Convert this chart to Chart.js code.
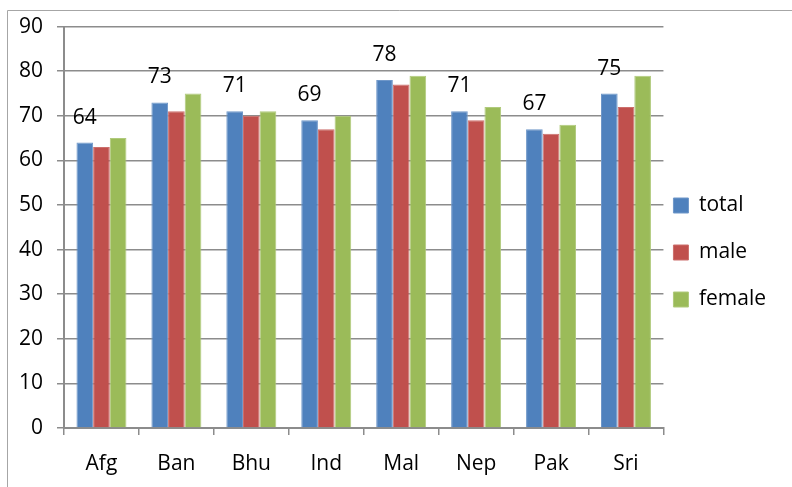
<!DOCTYPE html>
<html>
<head>
<meta charset="utf-8">
<script src="https://cdn.jsdelivr.net/npm/chart.js@4"></script>
<style>
  html, body { margin: 0; padding: 0; background: #fff; }
  #wrap { width: 792px; height: 487px; }
</style>
</head>
<body>
<div id="wrap"><canvas id="graficoBarras" width="792" height="487"></canvas></div>
<script>
// dados
const paises = ['Afg', 'Ban', 'Bhu', 'Ind', 'Mal', 'Nep', 'Pak', 'Sri'];
const total  = [64, 73, 71, 69, 78, 71, 67, 75];
const male   = [63, 71, 70, 67, 77, 69, 66, 72];
const female = [65, 75, 71, 70, 79, 72, 68, 79];
const ticksY = [0, 10, 20, 30, 40, 50, 60, 70, 80, 90];

const fonte = '"Open Sans", "Liberation Sans", sans-serif';
const cinza = '#8c8c8c';

// moldura cinza em volta do grafico
const moldura = {
    id: 'moldura',
    beforeDraw(chart) {
        const ctx = chart.ctx;
        ctx.save();
        ctx.strokeStyle = '#a6a6a6';
        ctx.lineWidth = 1;
        ctx.beginPath();
        ctx.moveTo(7.5, chart.height);
        ctx.lineTo(7.5, 10.5);
        ctx.lineTo(chart.width, 10.5);
        ctx.stroke();
        ctx.restore();
    }
};

// legenda um pouco mais perto do grafico (o padding grande e so pro espacamento vertical)
const ajusteLegenda = {
    id: 'ajusteLegenda',
    afterLayout(chart) {
        chart.legend.left -= 16;
        chart.legend.right -= 16;
        chart.legend.top -= 4;
        chart.legend.bottom -= 4;
    }
};

// rotulos so na serie total
const rotulos = {
    id: 'rotulos',
    afterDatasetsDraw(chart) {
        const ctx = chart.ctx;
        const meta = chart.getDatasetMeta(0);
        ctx.save();
        ctx.font = '21px ' + fonte;
        ctx.fillStyle = '#000';
        ctx.textAlign = 'center';
        ctx.textBaseline = 'alphabetic';
        meta.data.forEach((bar, i) => {
            ctx.fillText(String(total[i]), bar.x, bar.y - 19);
        });
        ctx.restore();
    }
};

const ctxBarras = document.getElementById('graficoBarras').getContext('2d');
const graficoBarras = new Chart(ctxBarras, {
    type: 'bar',
    data: {
        labels: paises,
        datasets: [{
            label: 'total',
            data: total,
            backgroundColor: '#4F81BD',
            borderColor: '#6f97c9',
            borderWidth: 1
        }, {
            label: 'male',
            data: male,
            backgroundColor: '#C0504D',
            borderColor: '#cc6f6c',
            borderWidth: 1
        }, {
            label: 'female',
            data: female,
            backgroundColor: '#9BBB59',
            borderColor: '#b0ca7c',
            borderWidth: 1
        }]
    },
    options: {
        responsive: false,
        animation: false,
        devicePixelRatio: 1,
        datasets: {
            bar: { categoryPercentage: 0.667, barPercentage: 1 }
        },
        layout: {
            padding: { left: 0, top: 26, right: 0, bottom: 0 }
        },
        scales: {
            x: {
                grid: {
                    drawOnChartArea: false,
                    color: cinza,
                    tickLength: 7,
                    lineWidth: 1.5
                },
                border: { color: cinza, width: 2 },
                ticks: {
                    color: '#000',
                    padding: 16,
                    font: { family: fonte, size: 21 }
                },
                afterFit(scale) { scale.height = 59; }
            },
            y: {
                min: 0,
                max: 90,
                afterBuildTicks(scale) {
                    scale.ticks = ticksY.map(v => ({ value: v }));
                },
                grid: {
                    color: cinza,
                    lineWidth: 1.5,
                    tickLength: 7
                },
                border: { color: cinza, width: 2 },
                ticks: {
                    color: '#000',
                    padding: 14,
                    font: { family: fonte, size: 21 }
                },
                afterFit(scale) { scale.width = 64; }
            }
        },
        plugins: {
            legend: {
                position: 'right',
                labels: {
                    boxWidth: 15,
                    boxHeight: 15,
                    padding: 26,
                    color: '#000',
                    font: { family: fonte, size: 21 }
                }
            },
            tooltip: { enabled: false }
        }
    },
    plugins: [moldura, ajusteLegenda, rotulos]
});
</script>
</body>
</html>
